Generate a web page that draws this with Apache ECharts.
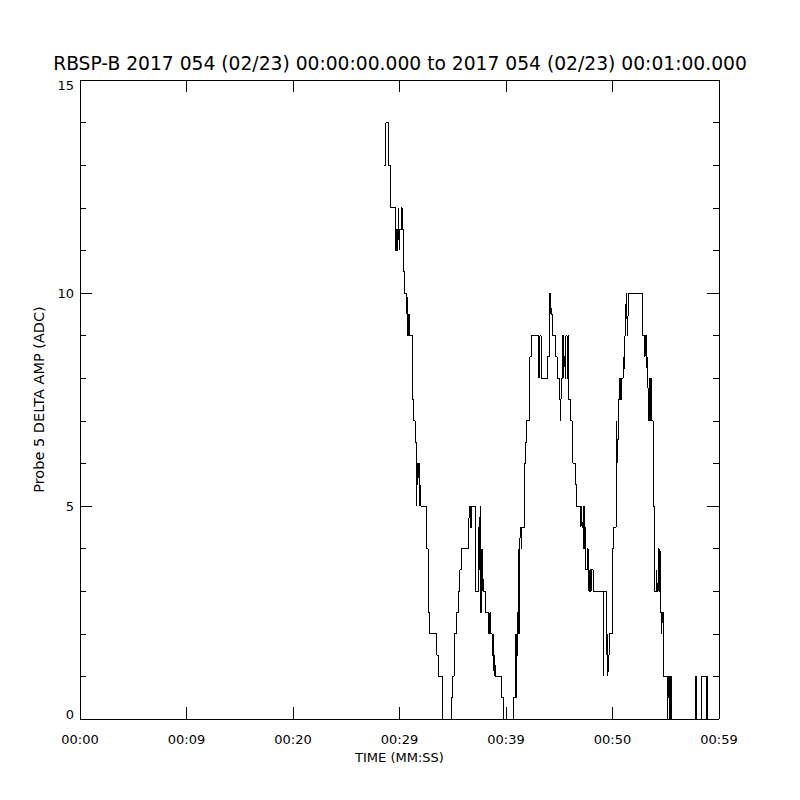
<!DOCTYPE html>
<html>
<head>
<meta charset="utf-8">
<script src="https://cdn.jsdelivr.net/npm/echarts@6/dist/echarts.min.js"></script>
<style>
  html, body { margin: 0; padding: 0; background: #fff; }
  #chart { width: 800px; height: 800px; }
  /* plotter-like hard lines */
  #chart svg path { shape-rendering: crispEdges; }
</style>
</head>
<body>
<div id="chart"></div>
<script>
// time of each step (seconds after 00:00:00) and the value held from there
const stepTimes = [
  28.57, 28.73, 28.95, 29.11, 29.61, 29.69, 29.75, 29.82, 29.89, 29.93,
  29.98, 30.03, 30.19, 30.26, 30.36, 30.45, 30.64, 30.70, 30.75, 30.80,
  30.85, 30.91, 30.96, 31.20, 31.29, 31.46, 31.55, 31.61, 31.66, 31.72,
  31.78, 31.85, 31.90, 31.95, 32.00, 32.52, 32.68, 32.84, 33.52, 33.68,
  34.02, 34.84, 34.93, 35.12, 35.37, 35.56, 35.68, 35.80, 36.50, 36.56,
  36.65, 36.74, 37.12, 37.44, 37.48, 37.53, 37.59, 37.63, 37.70, 37.75,
  37.80, 37.86, 38.12, 38.34, 38.38, 38.44, 38.50, 38.59, 38.71, 38.78,
  38.83, 38.89, 38.94, 39.00, 39.62, 39.75, 40.69, 40.85, 40.90, 40.96,
  41.01, 41.06, 41.15, 41.20, 41.25, 41.29, 41.34, 41.41, 41.47, 41.72,
  41.85, 41.94, 42.25, 42.38, 43.03, 43.08, 43.13, 43.19, 43.29, 43.88,
  44.04, 44.10, 44.15, 44.20, 44.24, 44.32, 44.63, 44.79, 45.07, 45.14,
  45.19, 45.32, 45.42, 45.47, 45.54, 45.63, 45.73, 45.82, 45.89, 46.01,
  46.20, 46.24, 46.29, 46.48, 46.60, 47.04, 47.10, 47.15, 47.26, 47.32,
  47.39, 47.45, 47.51, 47.63, 47.70, 47.79, 47.86, 47.93, 48.00, 48.20,
  49.14, 49.20, 49.46, 49.51, 49.57, 49.62, 49.70, 49.98, 50.07, 50.33,
  50.39, 50.45, 50.50, 50.55, 50.64, 50.70, 50.77, 50.83, 50.86, 51.01,
  51.06, 51.11, 51.17, 51.24, 51.30, 51.35, 51.41, 51.46, 51.50, 52.77,
  53.05, 53.11, 53.21, 53.27, 53.31, 53.36, 53.43, 53.48, 53.55, 53.62,
  53.83, 53.92, 54.15, 54.20, 54.30, 54.37, 54.46, 54.51, 54.55, 54.62,
  54.68, 54.77, 55.15, 55.21, 55.28, 55.34, 55.40, 55.47, 55.56, 57.75,
  57.81, 57.87, 57.91, 58.38, 58.85, 58.90, 58.95, 59.07
];
const stepValues = [
  13, 14, 13, 12, 11, 11.5, 11, 11.5, 12, 11.5,
  11, 11.5, 12, 11.5, 10.5, 10, 9.5, 10, 9, 9.5,
  9, 9.5, 9, 7.5, 7, 6.5, 6, 5, 6, 5.5,
  6, 5.5, 5, 5.5, 5, 4, 2.5, 2, 1.5, 1,
  0, 0.5, 1, 2, 2.5, 3, 3.5, 4, 4.5, 5,
  4.5, 5, 3, 4.5, 3.5, 4.5, 5, 2.5, 4, 3,
  4, 3, 2.5, 2, 2.5, 2, 2.5, 2, 1.5, 2,
  1.5, 1, 1.5, 1, 0.5, 0, 0.5, 2, 0.5, 2,
  0.5, 2.5, 2, 4, 2, 4, 4.5, 4, 4.5, 6,
  6.5, 7, 8.5, 9, 8, 9, 8, 9, 8, 8.5,
  9, 10, 9.5, 10, 9.5, 9, 8.5, 8, 7.5, 7,
  8, 9, 8, 8.5, 8, 9, 8, 9, 7.5, 7,
  6.5, 7, 6, 5.5, 5, 4.5, 5, 4.5, 5, 4,
  5, 4, 3.5, 4, 3.5, 3, 3.5, 3, 3.5, 3,
  1, 3, 1.5, 2, 1, 1.5, 2, 4, 4.5, 7,
  6, 6.5, 6, 7.5, 8, 7.5, 8, 7.5, 8, 8.5,
  8, 8.5, 9, 9.5, 10, 9.5, 9, 9.5, 10, 9,
  8.5, 9, 8.5, 8, 8.5, 7, 8, 7, 8, 7,
  5, 3, 3.5, 3, 4, 3, 4, 3, 2.5, 2,
  2.5, 1, 0, 1, 0.5, 1, 0, 1, 0, 1,
  0, 1, 0, 1, 0, 1, 0, 0
];
const timeLabels = ['00:00', '00:09', '00:20', '00:29', '00:39', '00:50', '00:59'];

const chartDom = document.getElementById('chart');
const myChart = echarts.init(chartDom, null, { renderer: 'svg' });

const font = 'DejaVu Sans';
const seriesData = stepTimes.map((t, i) => [t, stepValues[i]]);

const tickX = {
  type: 'value',
  min: 0,
  max: 60,
  interval: 10,
  axisLine: { show: true, onZero: false, lineStyle: { color: '#000', width: 1 } },
  axisTick: { show: true, inside: true, length: 12, lineStyle: { color: '#000' } },
  splitLine: { show: false }
};
const tickY = {
  type: 'value',
  min: 0,
  max: 15,
  interval: 5,
  axisLine: { show: true, onZero: false, lineStyle: { color: '#000', width: 1 } },
  axisTick: { show: true, inside: true, length: 12, lineStyle: { color: '#000' } },
  minorTick: { show: true, splitNumber: 5, length: 6, lineStyle: { color: '#000' } },
  splitLine: { show: false }
};

const option = {
  animation: false,
  backgroundColor: '#fff',
  title: {
    text: 'RBSP-B 2017 054 (02/23) 00:00:00.000 to 2017 054 (02/23) 00:01:00.000',
    left: 'center',
    top: 49,
    textStyle: { fontFamily: font, fontSize: 18.7, fontWeight: 'normal', color: '#000' }
  },
  grid: { left: 80, right: 81, top: 80, bottom: 81 },
  xAxis: [
    Object.assign({}, tickX, {
      position: 'bottom',
      name: 'TIME (MM:SS)',
      nameLocation: 'middle',
      nameGap: 32,
      nameTextStyle: { fontFamily: font, fontSize: 13, color: '#000' },
      axisLabel: {
        margin: 14,
        fontFamily: font,
        fontSize: 13,
        color: '#000',
        formatter: (v) => timeLabels[Math.round(v / 10)]
      }
    }),
    Object.assign({}, tickX, {
      position: 'top',
      axisLabel: { show: false }
    })
  ],
  yAxis: [
    Object.assign({}, tickY, {
      position: 'left',
      name: 'Probe 5 DELTA AMP (ADC)',
      nameLocation: 'middle',
      nameGap: 33,
      nameTextStyle: { fontFamily: font, fontSize: 14.5, color: '#000' },
      axisLabel: {
        margin: 6,
        fontFamily: font,
        fontSize: 13,
        color: '#000',
        // end labels sit inside the frame, like the original plot
        formatter: (v) => v === 15 ? '{hi|15}' : (v === 0 ? '{lo|0}' : String(v)),
        rich: {
          hi: { fontFamily: font, fontSize: 13, color: '#000', padding: [11, 0, 0, 0] },
          lo: { fontFamily: font, fontSize: 13, color: '#000', padding: [0, 0, 10, 0] }
        }
      }
    }),
    Object.assign({}, tickY, {
      position: 'right',
      axisLabel: { show: false }
    })
  ],
  series: [{
    type: 'line',
    step: 'end',
    xAxisIndex: 0,
    yAxisIndex: 0,
    showSymbol: false,
    symbol: 'none',
    lineStyle: { color: '#000', width: 1 },
    data: seriesData
  }]
};

myChart.setOption(option);
</script>
</body>
</html>
